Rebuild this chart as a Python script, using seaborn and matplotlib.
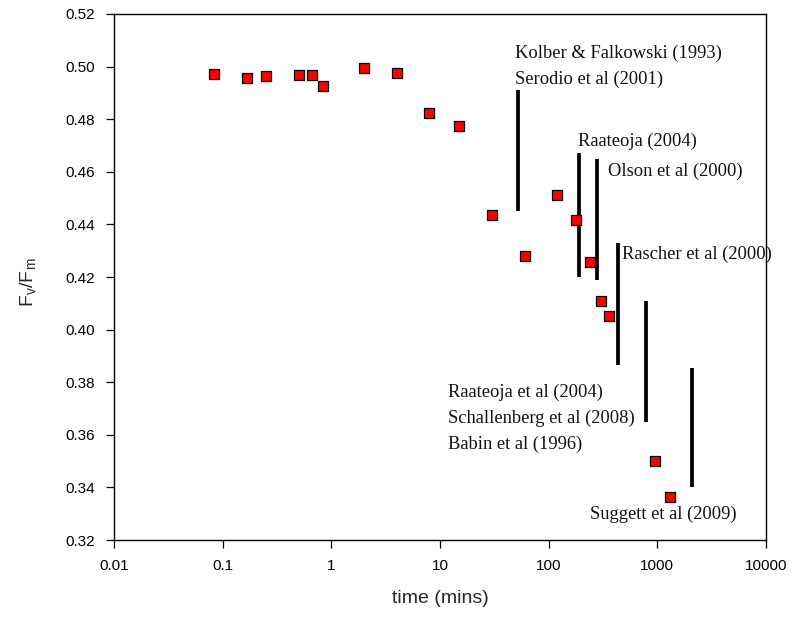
import matplotlib
matplotlib.use("Agg")
import matplotlib.pyplot as plt
import seaborn as sns
import pandas as pd

# ---- data ----
time_mins = [0.083, 0.167, 0.25, 0.5, 0.667, 0.833, 2, 4, 8, 15,
             30, 60, 120, 180, 240, 300, 360, 960, 1320]
fv_fm = [0.4972, 0.4957, 0.4965, 0.4969, 0.4968, 0.4927, 0.4996, 0.4977, 0.4824, 0.4775,
         0.4436, 0.4281, 0.4511, 0.4417, 0.4258, 0.4109, 0.4053, 0.3499, 0.3365]

range_time = [52, 189, 280, 434, 787, 2100]
range_low = [0.445, 0.420, 0.419, 0.3865, 0.365, 0.340]
range_high = [0.491, 0.467, 0.465, 0.433, 0.411, 0.3855]

ref_labels = ["Kolber & Falkowski (1993)", "Serodio et al (2001)", "Raateoja (2004)",
              "Olson et al (2000)", "Rascher et al (2000)", "Raateoja et al (2004)",
              "Schallenberg et al (2008)", "Babin et al (1996)", "Suggett et al (2009)"]
# label anchor positions (left edge, vertical centre) in data coordinates
ref_label_x = [49, 49, 186, 351, 473, 11.8, 11.8, 11.8, 240]
ref_label_y = [0.5052, 0.4953, 0.4717, 0.4603, 0.4287, 0.3761, 0.3664, 0.3563, 0.3297]

x_ticks = [0.01, 0.1, 1, 10, 100, 1000, 10000]
x_ticklabels = ["0.01", "0.1", "1", "10", "100", "1000", "10000"]
y_ticks = [0.32, 0.34, 0.36, 0.38, 0.40, 0.42, 0.44, 0.46, 0.48, 0.50, 0.52]

df = pd.DataFrame({"time": time_mins, "fvfm": fv_fm})

sns.set_theme(style="ticks")
plt.rcParams["font.family"] = ["Liberation Sans", "DejaVu Sans"]

fig = plt.figure(figsize=(7.92, 6.23), dpi=100)
ax = fig.add_axes([114 / 792, 83 / 623, 652 / 792, 526 / 623])

ax.vlines(range_time, range_low, range_high, colors="black", linewidth=2.7, zorder=2)
sns.scatterplot(data=df, x="time", y="fvfm", ax=ax, marker="s", s=42,
                color="#ff0000", edgecolor="black", linewidth=0.9, zorder=3, legend=False)

for lab, lx, ly in zip(ref_labels, ref_label_x, ref_label_y):
    ax.text(lx, ly, lab, ha="left", va="center", fontsize=13.3,
            family=["Liberation Serif", "DejaVu Serif"], color="#111111")

ax.set_xscale("log")
ax.set_xlim(0.01, 10000)
ax.set_ylim(0.32, 0.52)
ax.set_xticks(x_ticks)
ax.set_xticklabels(x_ticklabels)
ax.minorticks_off()
ax.set_yticks(y_ticks)
ax.set_yticklabels([f"{v:.2f}" for v in y_ticks])
ax.tick_params(axis="both", direction="out", length=6, width=0.9, labelsize=11,
               colors="black", top=False, right=False, pad=8)

for sp in ax.spines.values():
    sp.set_visible(True)
    sp.set_color("black")
    sp.set_linewidth(1.0)

ax.set_xlabel("time (mins)", fontsize=14)
ax.set_ylabel("F$_\\mathregular{v}$/F$_\\mathregular{m}$", fontsize=14)
ax.xaxis.set_label_coords(0.5, -0.095)
ax.yaxis.set_label_coords(-0.115, 0.49)

fig.savefig("out.png", dpi=100)
